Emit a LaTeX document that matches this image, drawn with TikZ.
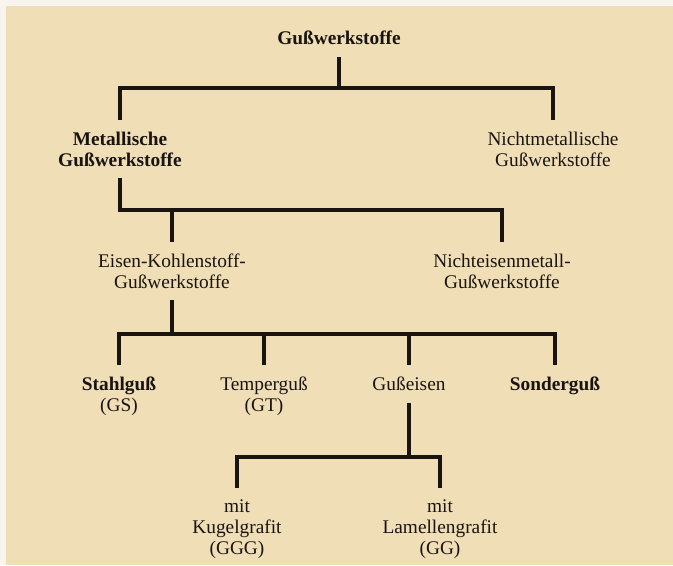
\documentclass[tikz,border=0pt]{standalone}
\usepackage{fontspec}
\setmainfont{Liberation Serif}
\usetikzlibrary{calc}
\definecolor{paper}{RGB}{240,222,182}
\definecolor{rim}{RGB}{248,244,238}
\definecolor{ink}{RGB}{25,20,16}
\newcommand{\treewidth}{2.5pt}
\newcommand{\labelfont}{\fontsize{14.5}{15.5}\selectfont}

\begin{document}
\begin{tikzpicture}[x=0.75pt,y=-0.75pt,
  lbl/.style={anchor=north,align=center,text=ink,font=\labelfont,inner sep=2pt,outer sep=7pt},
  blbl/.style={lbl,font=\labelfont\bfseries},
  tree/.style={draw=ink,line width=\treewidth}]
\fill[rim] (0,0) rectangle (673,565);
\fill[paper] (6,6) rectangle (673,565);
\useasboundingbox (0,0) rectangle (673,565);
%labels
\node[blbl] (gw) at (339,19) {Gußwerkstoffe};
\node[blbl] (mg) at (120,120) {Metallische\\Gußwerkstoffe};
\node[lbl] (ng) at (553,120) {Nichtmetallische\\Gußwerkstoffe};
\node[lbl] (ek) at (172,242) {Eisen-Kohlenstoff-\\Gußwerkstoffe};
\node[lbl] (ne) at (502,242) {Nichteisenmetall-\\Gußwerkstoffe};
\node[lbl] (sg) at (119,365) {\textbf{Stahlguß}\\(GS)};
\node[lbl] (tg) at (264,365) {Temperguß\\(GT)};
\node[lbl] (ge) at (409,365) {Gußeisen};
\node[blbl] (so) at (555,365) {Sonderguß};
\node[lbl] (kg) at (237,488) {mit\\Kugelgrafit\\(GGG)};
\node[lbl] (lg) at (440,488) {mit\\Lamellengrafit\\(GG)};
%junctions
\coordinate (j1) at (339,88);
\coordinate (j2) at (120,210);
\coordinate (j3) at (172,334);
\coordinate (j4) at (409,457);
%level 1
\draw[tree] (gw.south) -- (j1);
\draw[tree] (mg.north) |- (j1) -| (ng.north);
%level 2
\draw[tree] (mg.south) -- (j2) -| (ne.north);
\draw[tree] (ek.north) -- (ek.north |- j2);
%level 3
\draw[tree] (ek.south) -- (j3);
\draw[tree] (sg.north) |- (j3) -| (so.north);
\draw[tree] (tg.north) -- (tg.north |- j3);
\draw[tree] (ge.north) -- (ge.north |- j3);
%level 4
\draw[tree] (ge.south) -- (j4);
\draw[tree] (kg.north) |- (j4) -| (lg.north);
\end{tikzpicture}
\end{document}
